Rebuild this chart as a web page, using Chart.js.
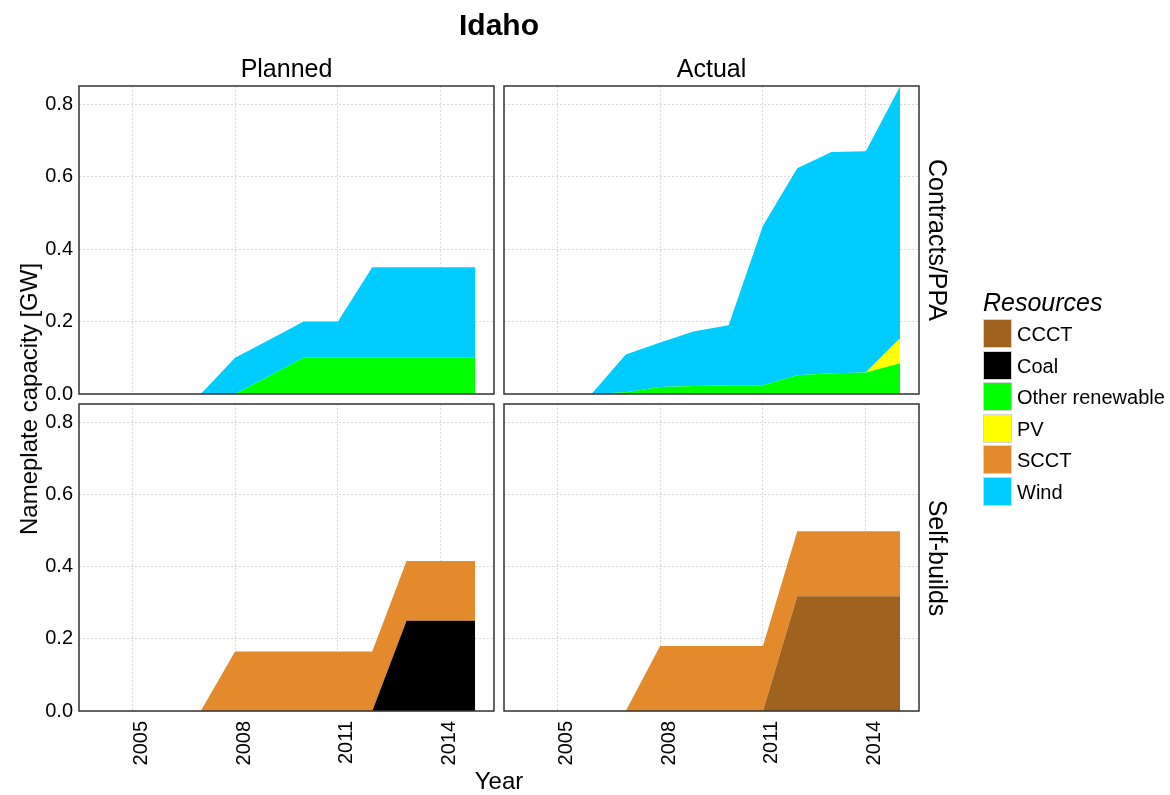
<!DOCTYPE html>
<html>
<head>
<meta charset="utf-8">
<script src="https://cdn.jsdelivr.net/npm/chart.js@4.4.1/dist/chart.umd.min.js"></script>
<style>
  html, body { margin: 0; padding: 0; background: #fff; }
  body { width: 1170px; height: 795px; position: relative; overflow: hidden;
         font-family: Arial, "Liberation Sans", sans-serif; color: #000; }
  canvas { position: absolute; left: 0; top: 0; }
  .lbl { position: absolute; white-space: nowrap; line-height: 1; transform: translate(-50%, -50%); }
  .rot90 { transform: translate(-50%, -50%) rotate(90deg); }
  .rotm90 { transform: translate(-50%, -50%) rotate(-90deg); }
  .key { position: absolute; width: 29px; height: 29px; box-sizing: border-box; border: 1px solid #d4d4d4; }
  .keytxt { position: absolute; font-size: 20px; line-height: 1; white-space: nowrap; transform: translateY(-50%); }
</style>
</head>
<body>
<canvas id="c-pc" width="1170" height="795"></canvas>
<canvas id="c-ac" width="1170" height="795"></canvas>
<canvas id="c-ps" width="1170" height="795"></canvas>
<canvas id="c-as" width="1170" height="795"></canvas>

<div class="lbl" style="left:499px; top:25px; font-size:30px; font-weight:bold;">Idaho</div>
<div class="lbl" style="left:286.5px; top:68px; font-size:25px;">Planned</div>
<div class="lbl" style="left:711.5px; top:68px; font-size:25px;">Actual</div>
<div class="lbl rot90" style="left:937px; top:240px; font-size:25px;">Contracts/PPA</div>
<div class="lbl rot90" style="left:937px; top:557.5px; font-size:25px;">Self-builds</div>
<div class="lbl rotm90" style="left:29px; top:399px; font-size:24px;">Nameplate capacity [GW]</div>
<div class="lbl" style="left:499px; top:781px; font-size:24px;">Year</div>
<div id="legend"></div>

<script>
// ---- data ----
const years = [2004, 2005, 2006, 2007, 2008, 2009, 2010, 2011, 2012, 2013, 2014, 2015];
const resources = ["CCCT", "Coal", "Other renewable", "PV", "SCCT", "Wind"];
const colours = ["#A0621F", "#000000", "#00FF00", "#FFFF00", "#E38A2C", "#00CCFF"];
const xTicks = [2005, 2008, 2011, 2014];
const yTicks = [0, 0.2, 0.4, 0.6, 0.8];

// Planned - Contracts/PPA
const plannedContractsOther = [0, 0, 0, 0, 0, 0.05, 0.1, 0.1, 0.1, 0.1, 0.1, 0.1];
const plannedContractsWind  = [0, 0, 0, 0, 0.1, 0.1, 0.1, 0.1, 0.25, 0.25, 0.25, 0.25];
// Actual - Contracts/PPA
const actualContractsOther = [0, 0, 0, 0.005, 0.019, 0.022, 0.024, 0.024, 0.052, 0.057, 0.059, 0.085];
const actualContractsPV    = [0, 0, 0, 0, 0, 0, 0, 0, 0, 0, 0, 0.069];
const actualContractsWind  = [0, 0, 0, 0.104, 0.123, 0.151, 0.166, 0.44, 0.571, 0.611, 0.611, 0.695];
// Planned - Self-builds
const plannedSelfCoal = [0, 0, 0, 0, 0, 0, 0, 0, 0, 0.25, 0.25, 0.25];
const plannedSelfSCCT = [0, 0, 0, 0, 0.165, 0.165, 0.165, 0.165, 0.165, 0.165, 0.165, 0.165];
// Actual - Self-builds
const actualSelfCCCT = [0, 0, 0, 0, 0, 0, 0, 0, 0.318, 0.318, 0.318, 0.318];
const actualSelfSCCT = [0, 0, 0, 0, 0.18, 0.18, 0.18, 0.18, 0.18, 0.18, 0.18, 0.18];

// ---- layout ----
const W = 1170, H = 795;
const X_AXIS_H = 80;
const FONT = 'Arial, "Liberation Sans", sans-serif';
const GRID = "#d9d9d9";

const panels = [
  { id: "c-pc", series: { "Other renewable": plannedContractsOther, "Wind": plannedContractsWind },
    left: 79, right: 494, top: 86, bottom: 394, yLabels: true, xLabels: false },
  { id: "c-ac", series: { "Other renewable": actualContractsOther, "PV": actualContractsPV, "Wind": actualContractsWind },
    left: 504, right: 919, top: 86, bottom: 394, yLabels: false, xLabels: false },
  { id: "c-ps", series: { "Coal": plannedSelfCoal, "SCCT": plannedSelfSCCT },
    left: 79, right: 494, top: 404, bottom: 711, yLabels: true, xLabels: true },
  { id: "c-as", series: { "CCCT": actualSelfCCCT, "SCCT": actualSelfSCCT },
    left: 504, right: 919, top: 404, bottom: 711, yLabels: false, xLabels: true }
];

// panel border (ggplot theme_bw style box)
const panelBox = {
  id: "panelBox",
  afterDraw(chart) {
    const a = chart.chartArea, ctx = chart.ctx;
    ctx.save();
    ctx.strokeStyle = "#333333";
    ctx.lineWidth = 1.5;
    ctx.strokeRect(a.left, a.top, a.right - a.left, a.bottom - a.top);
    ctx.restore();
  }
};

function makePanel(p) {
  const datasets = [];
  resources.forEach((name, i) => {
    const vals = p.series[name];
    if (!vals) return;
    datasets.push({
      label: name,
      data: years.map((yr, k) => ({ x: yr, y: vals[k] })),
      backgroundColor: colours[i],
      borderColor: "rgba(0,0,0,0)",
      borderWidth: 0,
      pointRadius: 0,
      pointHoverRadius: 0,
      tension: 0,
      fill: datasets.length === 0 ? "origin" : "-1"
    });
  });

  new Chart(document.getElementById(p.id), {
    type: "line",
    data: { datasets },
    options: {
      responsive: false,
      animation: false,
      events: [],
      layout: {
        padding: {
          left: p.yLabels ? 0 : p.left,
          top: p.top,
          right: W - p.right,
          bottom: H - p.bottom - (p.xLabels ? X_AXIS_H : 0)
        }
      },
      plugins: { legend: { display: false }, tooltip: { enabled: false } },
      scales: {
        x: {
          type: "linear",
          min: 2003.45,
          max: 2015.55,
          grid: { color: GRID, lineWidth: 1, drawTicks: false },
          border: { display: false, dash: [2, 2] },
          ticks: {
            display: p.xLabels,
            autoSkip: false,
            minRotation: 90,
            maxRotation: 90,
            padding: 10,
            labelOffset: 9,
            color: "#000",
            font: { family: FONT, size: 20 },
            callback: (v) => String(v)
          },
          afterBuildTicks: (s) => { s.ticks = xTicks.map((v) => ({ value: v })); },
          afterFit: (s) => { s.height = p.xLabels ? X_AXIS_H : 0; }
        },
        y: {
          stacked: true,
          min: 0,
          max: 0.85,
          grid: { color: GRID, lineWidth: 1, drawTicks: false },
          border: { display: false, dash: [2, 2] },
          ticks: {
            display: p.yLabels,
            padding: 6,
            color: "#000",
            font: { family: FONT, size: 20 },
            callback: (v) => v.toFixed(1)
          },
          afterBuildTicks: (s) => { s.ticks = yTicks.map((v) => ({ value: v })); },
          afterFit: (s) => { s.width = p.yLabels ? p.left : 0; }
        }
      }
    },
    plugins: [panelBox]
  });
}

panels.forEach(makePanel);

// legend
const legend = document.getElementById("legend");
let html = '<div style="position:absolute; left:983px; top:302px; transform:translateY(-50%); font-size:25px; font-style:italic; line-height:1;">Resources</div>';
resources.forEach((name, i) => {
  const top = 319 + i * 31.6;
  html += '<div class="key" style="left:983px; top:' + top + 'px; background:' + colours[i] + ';"></div>';
  html += '<div class="keytxt" style="left:1017px; top:' + (top + 15) + 'px;">' + name + '</div>';
});
legend.innerHTML = html;
</script>
</body>
</html>
